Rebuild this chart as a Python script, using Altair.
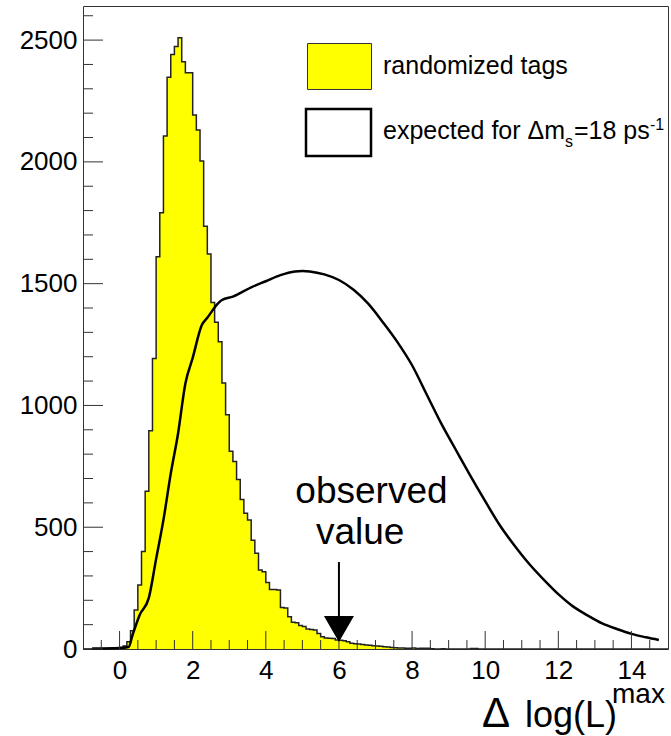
import altair as alt
import pandas as pd

FONT = "Liberation Sans"

# ---------------- data ----------------
# randomized tags histogram: bins of width 0.1, first listed bin starts at -0.3
hist_first_edge = -0.3
hist_bin_width = 0.1
hist_counts = [
    2, 3, 4, 6, 12,                                              # -0.3 .. 0.1
    30, 75, 160, 263, 400, 648, 896, 1193,                       # 0.2 .. 0.9
    1610, 1791, 2106, 2347, 2441, 2474, 2510, 2411, 2366, 2366,  # 1.0 .. 1.9
    2192, 2131, 2004, 1736, 1622, 1423, 1342, 1262, 1092, 962,   # 2.0 .. 2.9
    812, 770, 696, 614, 557, 530, 447, 393, 324, 317,            # 3.0 .. 3.9
    273, 244, 244, 242, 170, 168, 132, 110, 108, 96,             # 4.0 .. 4.9
    92, 82, 80, 78, 64, 50, 45, 44, 43, 37,                      # 5.0 .. 5.9
    36, 34, 30, 24, 22, 21, 18, 16, 15, 13,                      # 6.0 .. 6.9
    12, 11, 9, 8, 6, 5, 4, 4, 3, 3,                              # 7.0 .. 7.9
    4, 2, 3, 3, 3, 1, 0, 0, 1, 0,                                # 8.0 .. 8.9
    0, 0, 0, 0, 0, 0, 2, 2, 0, 0,                                # 9.0 .. 9.9
]

# expected distribution for dm_s = 18 ps^-1
curve_x = [-0.75, 0.0, 0.25, 0.35, 0.55, 0.8, 1.0, 1.2, 1.4, 1.6, 1.8,
           2.0, 2.25, 2.4, 2.7, 2.8, 3.1, 3.6, 4.0, 4.4, 4.8, 5.0, 5.2,
           5.6, 6.0, 6.4, 6.8, 7.2, 7.6, 8.0, 8.4, 8.8, 9.2, 9.6, 10.0,
           10.4, 10.8, 11.2, 11.6, 12.0, 12.4, 12.8, 13.2, 13.6, 14.0,
           14.4, 14.75]
curve_y = [2, 4, 8, 55, 140, 210, 370, 530, 720, 885, 1090,
           1195, 1330, 1360, 1420, 1433, 1447, 1485, 1510, 1535, 1550, 1552, 1550,
           1538, 1515, 1475, 1418, 1342, 1260, 1165, 1045, 925, 817, 710, 607,
           508, 425, 350, 285, 225, 175, 138, 105, 82, 62,
           48, 37]

x_label_values = [0, 2, 4, 6, 8, 10, 12, 14]
x_minor_ticks = [-0.5, 0.5, 1, 1.5, 2.5, 3, 3.5, 4.5, 5, 5.5, 6.5, 7, 7.5,
                 8.5, 9, 9.5, 10.5, 11, 11.5, 12.5, 13, 13.5, 14.5]
y_label_values = [0, 500, 1000, 1500, 2000, 2500]
y_minor_ticks = [100, 200, 300, 400, 600, 700, 800, 900, 1100, 1200, 1300,
                 1400, 1600, 1700, 1800, 1900, 2100, 2200, 2300, 2400, 2600]

observed_value = 6.0

# ---------------- tables ----------------
edges = [-1.0] + [round(hist_first_edge + i * hist_bin_width, 2) for i in range(len(hist_counts))]
vals = [0] + hist_counts
edges.append(round(hist_first_edge + len(hist_counts) * hist_bin_width, 2))
vals.append(0)
edges.append(15.0)
vals.append(0)
hist_df = pd.DataFrame({"x": edges, "y": vals})
curve_df = pd.DataFrame({"x": curve_x, "y": curve_y})

W, H = 585, 643
xs = alt.Scale(domain=[-1, 15], nice=False, zero=False)
ys = alt.Scale(domain=[0, 2640], nice=False, zero=False)

x_axis = alt.Axis(values=x_label_values, ticks=False, domain=False, grid=False,
                  labelFontSize=26, labelFont=FONT, labelColor="black",
                  labelPadding=8, title=None, format="d")
y_axis = alt.Axis(values=y_label_values, ticks=False, domain=False, grid=False,
                  labelFontSize=26, labelFont=FONT, labelColor="black",
                  labelPadding=6, title=None, format="d")


def X(field):
    return alt.X(field, scale=xs, axis=x_axis)


def Y(field):
    return alt.Y(field, scale=ys, axis=y_axis)


area = alt.Chart(hist_df).mark_area(interpolate="step-after", color="#ffff00", opacity=1).encode(
    x=X("x:Q"), y=Y("y:Q"))
outline = alt.Chart(hist_df).mark_line(interpolate="step-after", color="#222222", strokeWidth=1.5).encode(
    x=X("x:Q"), y=Y("y:Q"))
curve = alt.Chart(curve_df).mark_line(interpolate="monotone", color="black", strokeWidth=2.5).encode(
    x=X("x:Q"), y=Y("y:Q"))

TICK_COLOR = "#333333"


def yticks(values, length):
    return alt.Chart(pd.DataFrame({"v": values})).mark_rule(color=TICK_COLOR, strokeWidth=1).encode(
        y=Y("v:Q"), x=alt.value(0), x2=alt.value(length))


def xticks(values, length):
    return alt.Chart(pd.DataFrame({"v": values})).mark_rule(color=TICK_COLOR, strokeWidth=1).encode(
        x=X("v:Q"), y=alt.value(H), y2=alt.value(H - length))


ticks = [yticks(y_label_values, 20), yticks(y_minor_ticks, 10),
         xticks(x_label_values, 18), xticks(x_minor_ticks, 9)]

# arrow for observed value
arrow_df = pd.DataFrame({"x": [observed_value], "top": [357], "base": [135], "head": [82]})
arrow_line = alt.Chart(arrow_df).mark_rule(color="black", strokeWidth=2).encode(
    x=X("x:Q"), y=Y("top:Q"), y2="base:Q")
arrow_head = alt.Chart(arrow_df).mark_point(shape="triangle-down", size=900, filled=True,
                                            color="black", opacity=1).encode(
    x=X("x:Q"), y=Y("head:Q"))

ann_df = pd.DataFrame({"x": [6.89, 6.58], "y": [599, 431], "t": ["observed", "value"]})
ann = alt.Chart(ann_df).mark_text(fontSize=37, font=FONT, align="center", baseline="alphabetic",
                                   color="black").encode(
    x=X("x:Q"), y=Y("y:Q"), text="t:N")

dummy = pd.DataFrame({"a": [0]})


def label(text, px, py, size, align="left", baseline="alphabetic"):
    return alt.Chart(dummy).mark_text(text=text, fontSize=size, font=FONT, align=align,
                                      baseline=baseline, color="black").encode(
        x=alt.value(px), y=alt.value(py))


# legend
leg_yellow = alt.Chart(dummy).mark_rect(fill="#ffff00", stroke="#333333", strokeWidth=1).encode(
    x=alt.value(224.5), x2=alt.value(288.5), y=alt.value(37.5), y2=alt.value(83.5))
leg_white = alt.Chart(dummy).mark_rect(fill="white", stroke="black", strokeWidth=2.5).encode(
    x=alt.value(223), x2=alt.value(288), y=alt.value(103), y2=alt.value(150))
legend_texts = [
    label("randomized tags", 300, 68, 25),
    label("expected for \u0394m", 300, 133, 25),
    label("s", 482, 141, 16),
    label("=18 ps", 491, 133, 25),
    label("-1", 567, 124, 16),
]

# x-axis title: Δ log(L)^max
xtitle = [
    label("\u0394", 399, 721, 42),
    label("log(L)", 442, 721, 36),
    label("max", 529, 697, 28),
]

chart = alt.layer(
    area, outline, curve, *ticks, arrow_line, arrow_head, ann,
    leg_yellow, leg_white, *legend_texts, *xtitle,
).properties(
    width=W, height=H,
    padding={"left": 83, "top": 6, "right": 3, "bottom": 87},
    autosize=alt.AutoSizeParams(type="none"),
    background="white",
).configure_view(stroke="#333333", strokeWidth=1)

chart.save("out.html", embed_options={"renderer": "svg", "actions": False})
